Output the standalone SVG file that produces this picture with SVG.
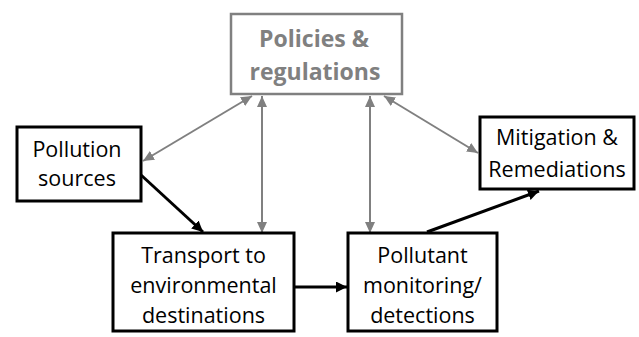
<svg xmlns="http://www.w3.org/2000/svg" width="639" height="337" viewBox="0 0 639 337">
<style>
.box{fill:#fff;stroke:#000;stroke-width:3}
.gbox{fill:#fff;stroke:#808080;stroke-width:2.5}
.t{font-family:"Open Sans","Liberation Sans",sans-serif;font-size:21.5px;fill:#000;text-anchor:middle}
.gt{font-family:"Open Sans","Liberation Sans",sans-serif;font-size:23px;font-weight:bold;fill:#808080;text-anchor:middle}
.g{stroke:#808080;stroke-width:2;fill:none;marker-start:url(#ga);marker-end:url(#ga)}
.k{stroke:#000;stroke-width:3;fill:none;marker-end:url(#ka)}
</style>
<defs>
<marker id="ga" markerUnits="userSpaceOnUse" markerWidth="12" markerHeight="10" refX="11" refY="5" orient="auto-start-reverse" viewBox="0 0 12 10"><path d="M0,0 L11,5 L0,10 z" fill="#808080"/></marker>
<marker id="ka" markerUnits="userSpaceOnUse" markerWidth="12" markerHeight="11" refX="11" refY="5.5" orient="auto" viewBox="0 0 12 11"><path d="M0,0 L11,5.5 L0,11 z" fill="#000"/></marker>
</defs>
<g id="connectors">
<line class="g" x1="252" y1="96" x2="143" y2="161"/>
<line class="g" x1="262" y1="96" x2="262" y2="233"/>
<line class="g" x1="370" y1="96" x2="370" y2="233"/>
<line class="g" x1="384" y1="96" x2="478" y2="153"/>
<line class="k" x1="141" y1="175" x2="203" y2="232"/>
<line class="k" x1="294" y1="287" x2="347" y2="287"/>
<line class="k" x1="427" y1="232" x2="539" y2="191"/>
</g>
<g id="policies">
<rect class="gbox" x="231" y="14" width="171" height="80"/>
<text class="gt" x="314" y="47">Policies &amp;</text>
<text class="gt" x="315" y="80">regulations</text>
</g>
<g id="pollution-sources">
<rect class="box" x="17" y="127" width="124" height="74"/>
<text class="t" x="77" y="157">Pollution</text>
<text class="t" x="77" y="186">sources</text>
</g>
<g id="mitigation">
<rect class="box" x="480" y="117" width="154" height="72"/>
<text class="t" x="557" y="145">Mitigation &amp;</text>
<text class="t" x="557" y="177">Remediations</text>
</g>
<g id="transport">
<rect class="box" x="113" y="233" width="181" height="98"/>
<text class="t" x="203.5" y="263">Transport to</text>
<text class="t" x="203.5" y="293">environmental</text>
<text class="t" x="203.5" y="323">destinations</text>
</g>
<g id="monitoring">
<rect class="box" x="348" y="233" width="149" height="98"/>
<text class="t" x="422.5" y="263">Pollutant</text>
<text class="t" x="422.5" y="293">monitoring/</text>
<text class="t" x="422.5" y="323">detections</text>
</g>
</svg>
